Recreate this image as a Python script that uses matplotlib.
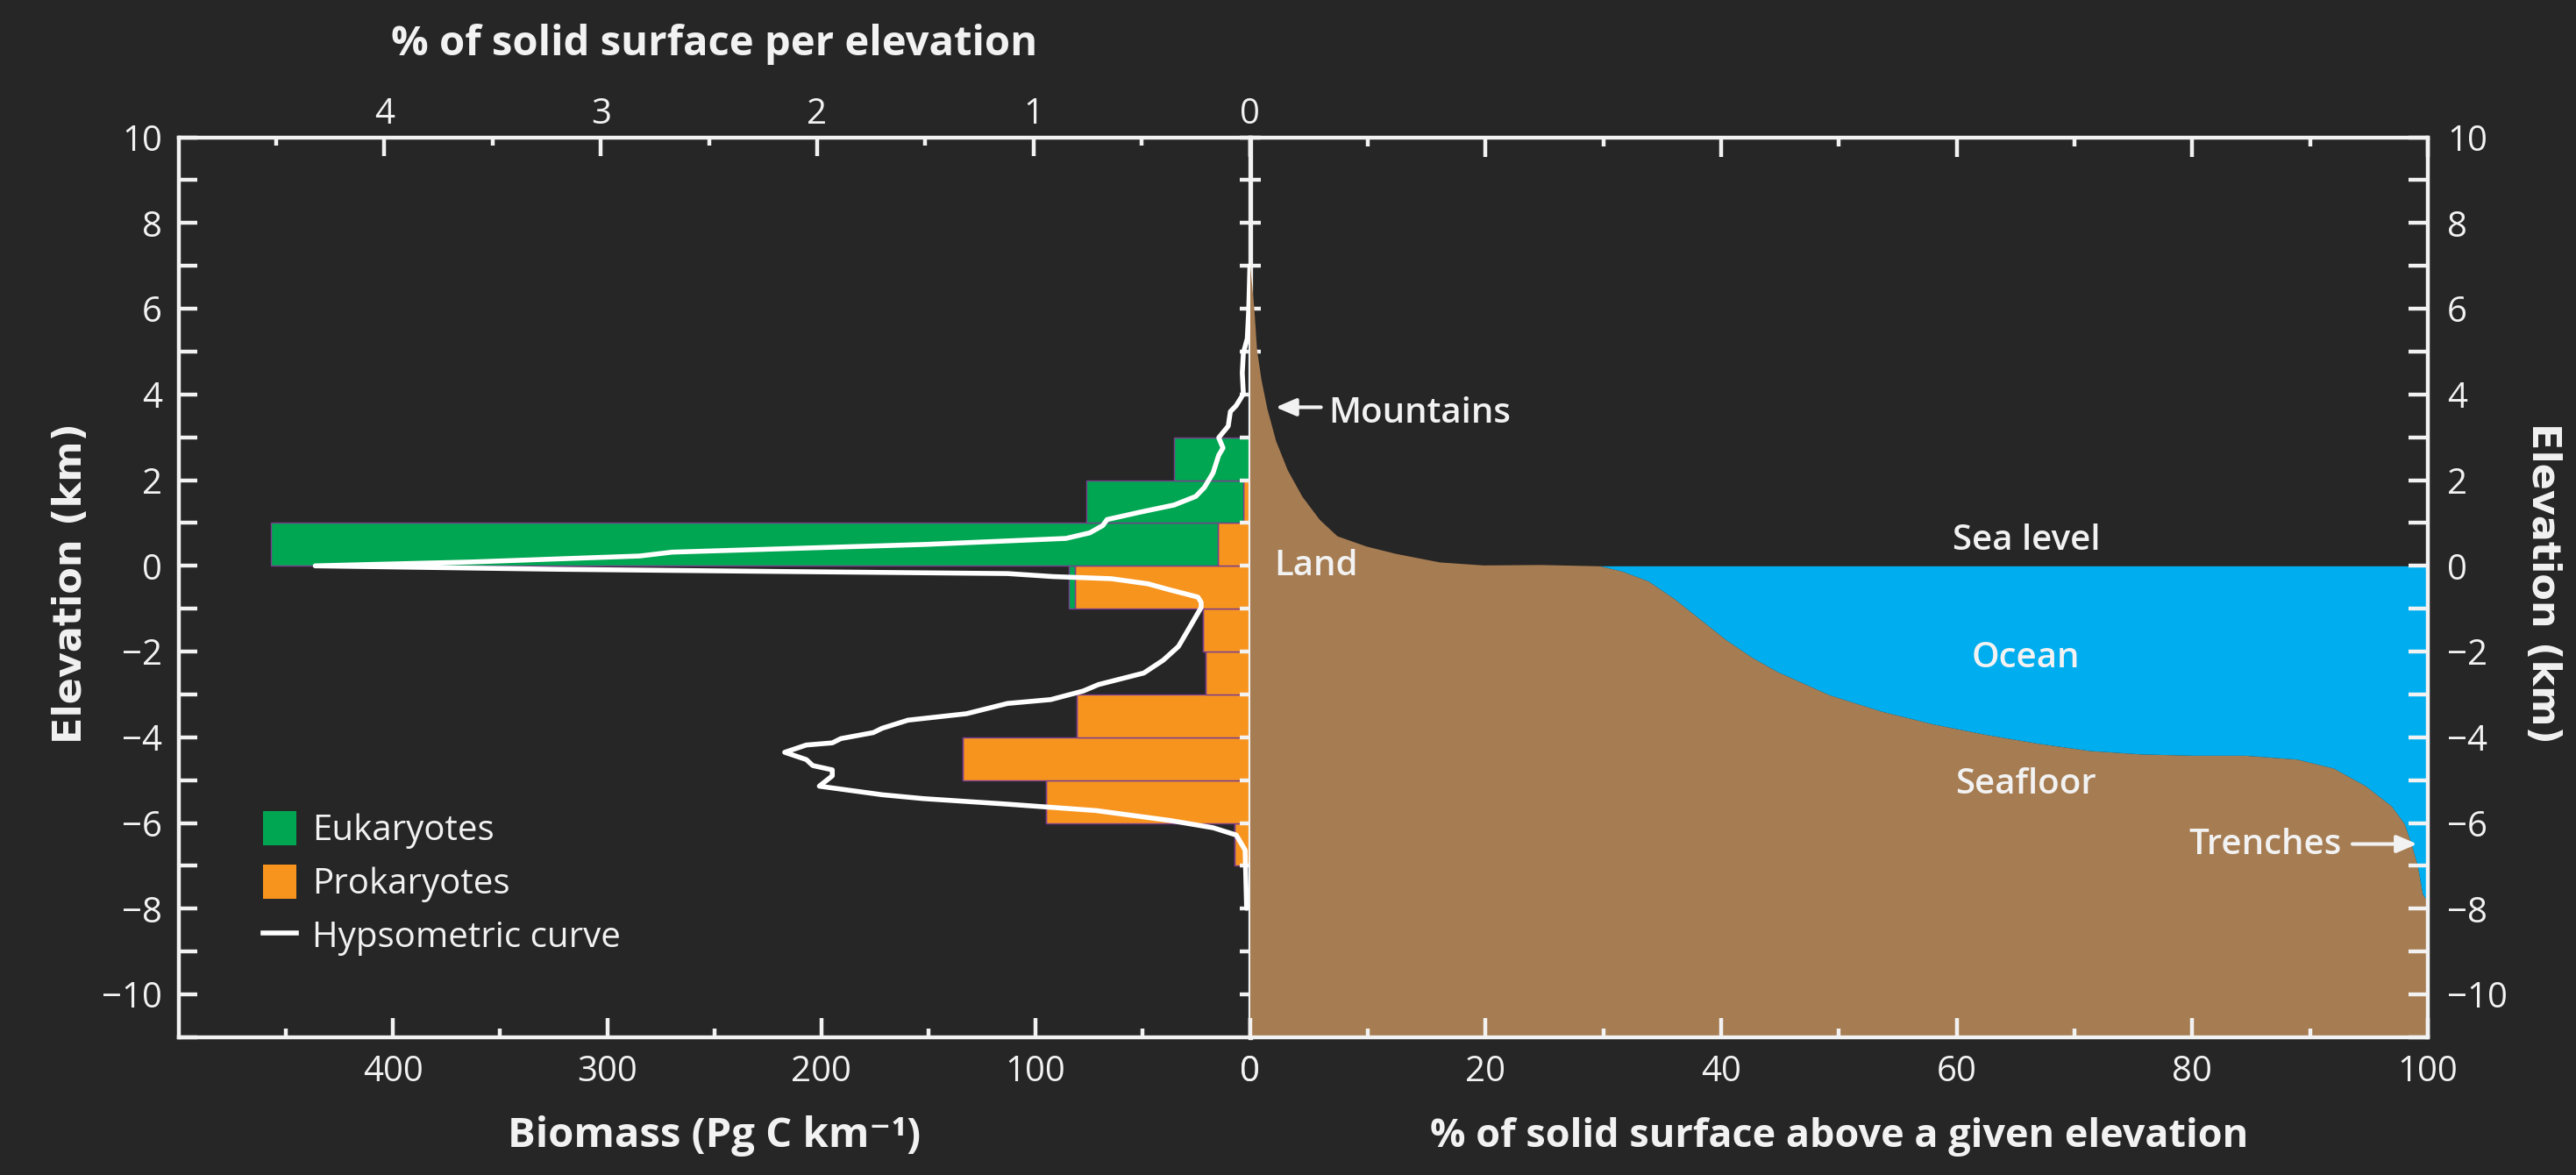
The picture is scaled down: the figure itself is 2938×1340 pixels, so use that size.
import matplotlib
matplotlib.use("Agg")
import matplotlib.pyplot as plt
from matplotlib.patches import Patch
from matplotlib.lines import Line2D
from matplotlib.ticker import MultipleLocator, FixedLocator

# ---------------- data ----------------
bin_bottom = [-7, -6, -5, -4, -3, -2, -1, 0, 1, 2]          # km, 1-km bins
prokaryotes = [7, 95, 134, 81, 20.5, 22, 81.7, 15, 3, 0]     # Pg C km^-1
eukaryotes = [0, 0, 0, 0, 0, 0, 3, 442, 73.5, 35.5]          # Pg C km^-1

# % of solid surface per elevation (hypsometric curve, left panel)
hyps_elev = [7.0, 6.0, 5.3, 4.97, 4.5, 4.01, 3.74, 3.60, 3.26, 2.99, 2.75, 2.58,
             2.17, 1.83, 1.62, 1.42, 1.25, 1.08, 0.94, 0.77, 0.64, 0.50, 0.32,
             0.23, 0.09, 0.0, -0.08, -0.13, -0.18, -0.25, -0.30, -0.42, -0.56,
             -0.65, -0.73, -0.85, -0.97, -1.45, -1.88, -2.20, -2.50, -2.77,
             -2.92, -3.12, -3.21, -3.45, -3.60, -3.79, -3.89, -4.03, -4.13,
             -4.18, -4.35, -4.52, -4.66, -4.76, -4.90, -5.14, -5.34, -5.43,
             -5.56, -5.71, -5.94, -6.11, -6.28, -6.63, -7.99]
hyps_pct = [0.0, 0.005, 0.012, 0.03, 0.035, 0.03, 0.063, 0.09, 0.10, 0.144, 0.124,
            0.144, 0.17, 0.21, 0.25, 0.35, 0.51, 0.66, 0.68, 0.74, 0.85, 1.50,
            2.67, 2.82, 3.60, 4.32, 3.20, 2.20, 1.12, 0.91, 0.64, 0.47, 0.37,
            0.30, 0.24, 0.225, 0.225, 0.28, 0.33, 0.40, 0.49, 0.70, 0.77, 0.92,
            1.12, 1.31, 1.58, 1.70, 1.74, 1.89, 1.93, 2.05, 2.15, 2.05, 2.02,
            1.93, 1.93, 1.99, 1.70, 1.51, 1.12, 0.71, 0.37, 0.17, 0.063, 0.022,
            0.015]

# % of solid surface above a given elevation (right panel)
cum_pct = [0, 0.33, 0.58, 0.95, 1.45, 2.19, 3.18, 4.43, 5.91, 7.40, 9.88, 12.36,
           16.1, 19.8, 24.7, 29.7, 31.57, 33.8, 36.0, 38.2, 40.4, 42.6, 44.8,
           49.2, 53.6, 58.0, 62.4, 66.9, 71.3, 75.7, 80.1, 84.5, 88.9, 92.0,
           94.7, 96.9, 98.0, 98.6, 99.1, 99.55, 100]
cum_elev = [7.0, 6.05, 5.03, 4.35, 3.67, 2.92, 2.24, 1.62, 1.08, 0.70, 0.46, 0.29,
            0.09, 0.02, 0.03, 0.0, -0.12, -0.35, -0.76, -1.24, -1.72, -2.13,
            -2.47, -3.01, -3.39, -3.69, -3.93, -4.14, -4.31, -4.39, -4.42, -4.42,
            -4.51, -4.72, -5.13, -5.60, -6.01, -6.49, -6.97, -7.65, -7.85]

biomass_ticks = [0, 100, 200, 300, 400]
pct_top_ticks = [0, 1, 2, 3, 4]
pct_bottom_ticks = [0, 20, 40, 60, 80, 100]
elev_ticks = [-10, -8, -6, -4, -2, 0, 2, 4, 6, 8, 10]

# ---------------- style ----------------
BG = "#262626"
FG = "#f2f2f2"
GREEN = "#00a651"
ORANGE = "#f7941e"
BROWN = "#a67c52"
CYAN = "#00aeef"
EDGE = "#7a3e8e"

plt.rcParams["font.family"] = ["Open Sans", "DejaVu Sans"]
plt.rcParams["axes.unicode_minus"] = True

W, H, DPI = 2938, 1340, 200
fig = plt.figure(figsize=(W / DPI, H / DPI), dpi=DPI, facecolor=BG)


def frac(x0, y0, x1, y1):
    return [x0 / W, 1 - y1 / H, (x1 - x0) / W, (y1 - y0) / H]


TOP, BOT = 156.5, 1183
XMID = 1425.5
axL = fig.add_axes(frac(204, TOP, XMID, BOT))
axR = fig.add_axes(frac(XMID, TOP, 2769, BOT))

TICK_FS = 14.5
LAB_FS = 17
YLAB_FS = 16
ANN_FS = 14.5
SPW = 1.6

# ---------------- left panel ----------------
axL.set_facecolor(BG)
axL.set_xlim(500, 0)
axL.set_ylim(-11, 10)
centers = [b + 0.5 for b in bin_bottom]
axL.barh(centers, prokaryotes, height=1.0, left=0, color=ORANGE,
         edgecolor=EDGE, linewidth=0.5, zorder=2)
axL.barh(centers, eukaryotes, height=1.0, left=prokaryotes, color=GREEN,
         edgecolor=EDGE, linewidth=0.5, zorder=2)

for s in ["right", "top"]:
    axL.spines[s].set_visible(False)
for s in ["left", "bottom"]:
    axL.spines[s].set_color(FG)
    axL.spines[s].set_linewidth(SPW)

axL.set_xticks(biomass_ticks)
axL.xaxis.set_minor_locator(FixedLocator([50, 150, 250, 350, 450]))
axL.set_yticks(elev_ticks)
axL.yaxis.set_minor_locator(FixedLocator([-11, -9, -7, -5, -3, -1, 1, 3, 5, 7, 9]))
axL.tick_params(axis="x", which="major", direction="in", length=7.9, width=SPW,
                color=FG, labelcolor=FG, labelsize=TICK_FS, pad=7, top=False)
axL.tick_params(axis="x", which="minor", direction="in", length=3.6, width=SPW,
                color=FG, top=False)
axL.tick_params(axis="y", which="both", direction="in", length=7.5, width=SPW,
                color=FG, labelcolor=FG, labelsize=TICK_FS, pad=6.8,
                right=False)
axL.set_xlabel("Biomass (Pg C km⁻¹)", fontsize=LAB_FS, fontweight="bold",
               color=FG, va="baseline")
axL.xaxis.set_label_coords(0.5, -(1308 - BOT) / (BOT - TOP))
axL.set_ylabel("Elevation (km)", fontsize=YLAB_FS, fontweight="bold", color=FG,
               family="DejaVu Sans", va="center")
axL.yaxis.set_label_coords((81 - 204) / (XMID - 204), 0.505)

# top axis: % of solid surface per elevation
axT = axL.twiny()
axT.set_xlim(4.95, 0)
for s in ["right", "left", "bottom"]:
    axT.spines[s].set_visible(False)
axT.spines["top"].set_color(FG)
axT.spines["top"].set_linewidth(SPW)
axT.set_xticks(pct_top_ticks)
axT.xaxis.set_minor_locator(MultipleLocator(0.5))
axT.tick_params(axis="x", which="major", direction="in", length=7.6, width=SPW,
                color=FG, labelcolor=FG, labelsize=TICK_FS, pad=2)
axT.tick_params(axis="x", which="minor", direction="in", length=3.4, width=SPW,
                color=FG)
axT.plot(hyps_pct, hyps_elev, color="white", lw=2.0, solid_capstyle="round",
         solid_joinstyle="round", zorder=3)
axT.set_xlabel("% of solid surface per elevation", fontsize=LAB_FS,
               fontweight="bold", color=FG, va="baseline")
axT.xaxis.set_label_coords(0.5, 1 + (TOP - 63.3) / (BOT - TOP))

handles = [Patch(facecolor=GREEN, edgecolor="none"),
           Patch(facecolor=ORANGE, edgecolor="none"),
           Line2D([0], [0], color="white", lw=2.0)]
leg = axT.legend(handles, ["Eukaryotes", "Prokaryotes", "Hypsometric curve"],
                 loc="upper left", bbox_to_anchor=(300 / W, 1 - 925 / H),
                 bbox_transform=fig.transFigure, frameon=False,
                 fontsize=ANN_FS, handlelength=0.95, handleheight=1.1,
                 handletextpad=0.45, labelspacing=0.45, borderpad=0,
                 borderaxespad=0, labelcolor=FG)

# ---------------- right panel ----------------
axR.set_facecolor(BG)
axR.set_xlim(0, 100)
axR.set_ylim(-11, 10)
axR.fill_between(cum_pct, -11, cum_elev, color=BROWN, lw=0, zorder=1)
axR.fill_between(cum_pct, cum_elev, 0, where=[e < 0.001 for e in cum_elev],
                 interpolate=True, color=CYAN, lw=0, zorder=1)

axR.spines["left"].set_visible(False)
for s in ["right", "top", "bottom"]:
    axR.spines[s].set_color(FG)
    axR.spines[s].set_linewidth(SPW)
axR.set_xticks(pct_bottom_ticks)
axR.xaxis.set_minor_locator(FixedLocator([10, 30, 50, 70, 90]))
axR.set_yticks(elev_ticks)
axR.yaxis.set_minor_locator(FixedLocator([-11, -9, -7, -5, -3, -1, 1, 3, 5, 7, 9]))
axR.tick_params(axis="x", which="major", direction="in", length=7.9, width=SPW,
                color=FG, labelcolor=FG, labelsize=TICK_FS, pad=7, top=True)
axR.tick_params(axis="x", which="minor", direction="in", length=3.6, width=SPW,
                color=FG, top=True)
axR.tick_params(axis="y", which="both", direction="in", length=7.9, width=SPW,
                color=FG, labelcolor=FG, labelsize=TICK_FS, pad=8,
                left=False, labelleft=False, right=True, labelright=True)
axR.set_xlabel("% of solid surface above a given elevation", fontsize=16.2,
               fontweight="bold", color=FG, va="baseline")
axR.xaxis.set_label_coords(0.5, -(1308 - BOT) / (BOT - TOP))
axR.yaxis.set_label_position("right")
axR.set_ylabel("Elevation (km)", fontsize=YLAB_FS, fontweight="bold", color=FG,
               family="DejaVu Sans", rotation=270, va="center")
axR.yaxis.set_label_coords((2900 - XMID) / (2769 - XMID), 0.505)

# middle axis line with ticks crossing both sides
secL = axR.secondary_yaxis("left")
secL.spines["left"].set_color(FG)
secL.spines["left"].set_linewidth(1.9)
secL.set_yticks(list(range(-10, 11)))
secL.tick_params(axis="y", which="major", direction="inout", length=8.3,
                 width=SPW, color=FG, labelleft=False)
secL.tick_params(axis="y", which="minor", left=False)

# annotations
arrow_kw = dict(arrowstyle="-|>,head_length=0.7,head_width=0.3", color=FG,
                lw=1.5, shrinkA=0, shrinkB=0)
axR.annotate("", xy=(2.19, 3.70), xytext=(6.04, 3.70), arrowprops=arrow_kw)
axR.text(6.66, 3.34, "Mountains", color=FG, fontsize=ANN_FS,
         fontweight="semibold", ha="left", va="baseline")
axR.text(2.07, -0.22, "Land", color=FG, fontsize=ANN_FS,
         fontweight="semibold", ha="left", va="baseline")
axR.text(65.9, 0.38, "Sea level", color=FG, fontsize=ANN_FS,
         fontweight="semibold", ha="center", va="baseline")
axR.text(65.9, -2.37, "Ocean", color=FG, fontsize=ANN_FS,
         fontweight="semibold", ha="center", va="baseline")
axR.text(65.9, -5.32, "Seafloor", color=FG, fontsize=ANN_FS,
         fontweight="semibold", ha="center", va="baseline")
axR.text(92.7, -6.73, "Trenches", color=FG, fontsize=ANN_FS,
         fontweight="semibold", ha="right", va="baseline")
axR.annotate("", xy=(99.1, -6.49), xytext=(93.6, -6.49), arrowprops=arrow_kw)

fig.savefig("out.png", dpi=DPI, facecolor=BG)
